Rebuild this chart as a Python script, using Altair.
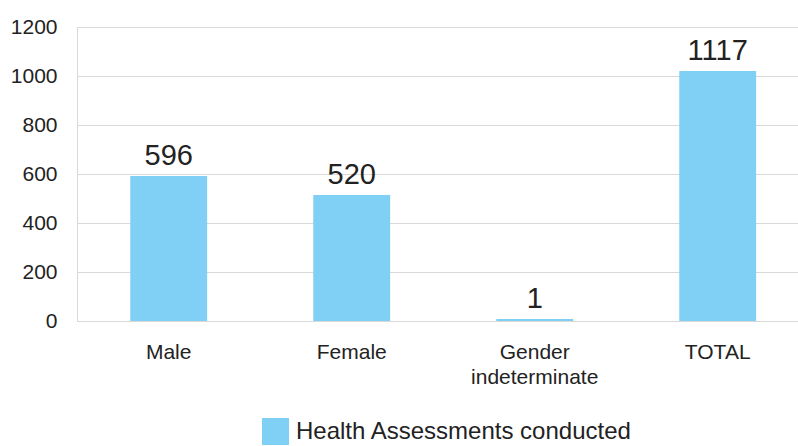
import altair as alt
import pandas as pd

categories = ["Male", "Female", "Gender|indeterminate", "TOTAL"]
bar_heights = [592, 514, 8, 1020]
bar_labels = ["596", "520", "1", "1117"]
series_name = "Health Assessments conducted"
y_ticks = [0, 200, 400, 600, 800, 1000, 1200]

df = pd.DataFrame({
    "category": categories,
    "value": bar_heights,
    "label": bar_labels,
    "series": [series_name] * len(categories),
})

FONT = "Liberation Sans"
BAR = "#80CFF4"
GRID = "#D9D9D9"
TXT = "#222222"

x = alt.X(
    "category:N",
    sort=categories,
    title=None,
    scale=alt.Scale(paddingInner=0.58, paddingOuter=0.26, align=0.56),
    axis=alt.Axis(
        labelAngle=0,
        labelFont=FONT,
        labelFontSize=21,
        labelColor=TXT,
        labelPadding=20,
        labelLineHeight=25,
        labelExpr="split(datum.label, '|')",
        ticks=False,
        domain=True,
        domainColor=GRID,
        grid=False,
    ),
)

y = alt.Y(
    "value:Q",
    title=None,
    scale=alt.Scale(domain=[0, 1200], nice=False),
    axis=alt.Axis(
        values=y_ticks,
        format="d",
        labelFont=FONT,
        labelFontSize=21,
        labelColor=TXT,
        labelPadding=20,
        ticks=False,
        domain=True,
        domainColor=GRID,
        gridColor=GRID,
        gridWidth=1,
    ),
)

bars = alt.Chart(df).mark_bar(color=BAR).encode(
    x=x,
    y=y,
    color=alt.Color(
        "series:N",
        scale=alt.Scale(range=[BAR]),
        legend=alt.Legend(
            title=None,
            orient="none",
            legendX=185,
            legendY=391,
            symbolType="square",
            symbolSize=729,
            symbolStrokeWidth=0,
            symbolOpacity=1,
            labelFont=FONT,
            labelFontSize=24,
            labelColor=TXT,
            labelOffset=7,
            labelLimit=0,
            padding=0,
        ),
    ),
)

texts = alt.Chart(df).mark_text(
    font=FONT, fontSize=29, color=TXT, baseline="alphabetic", dy=-11
).encode(
    x=alt.X("category:N", sort=categories),
    y=alt.Y("value:Q"),
    text="label:N",
)

chart = (
    alt.layer(bars, texts)
    .properties(
        width=721,
        height=294,
        autosize=alt.AutoSizeParams(type="none"),
        padding={"left": 77, "top": 27, "right": 0, "bottom": 125},
    )
    .configure_view(stroke=None)
    .configure(background="white")
)

chart.save("out.html", embed_options={"renderer": "svg", "actions": False})
